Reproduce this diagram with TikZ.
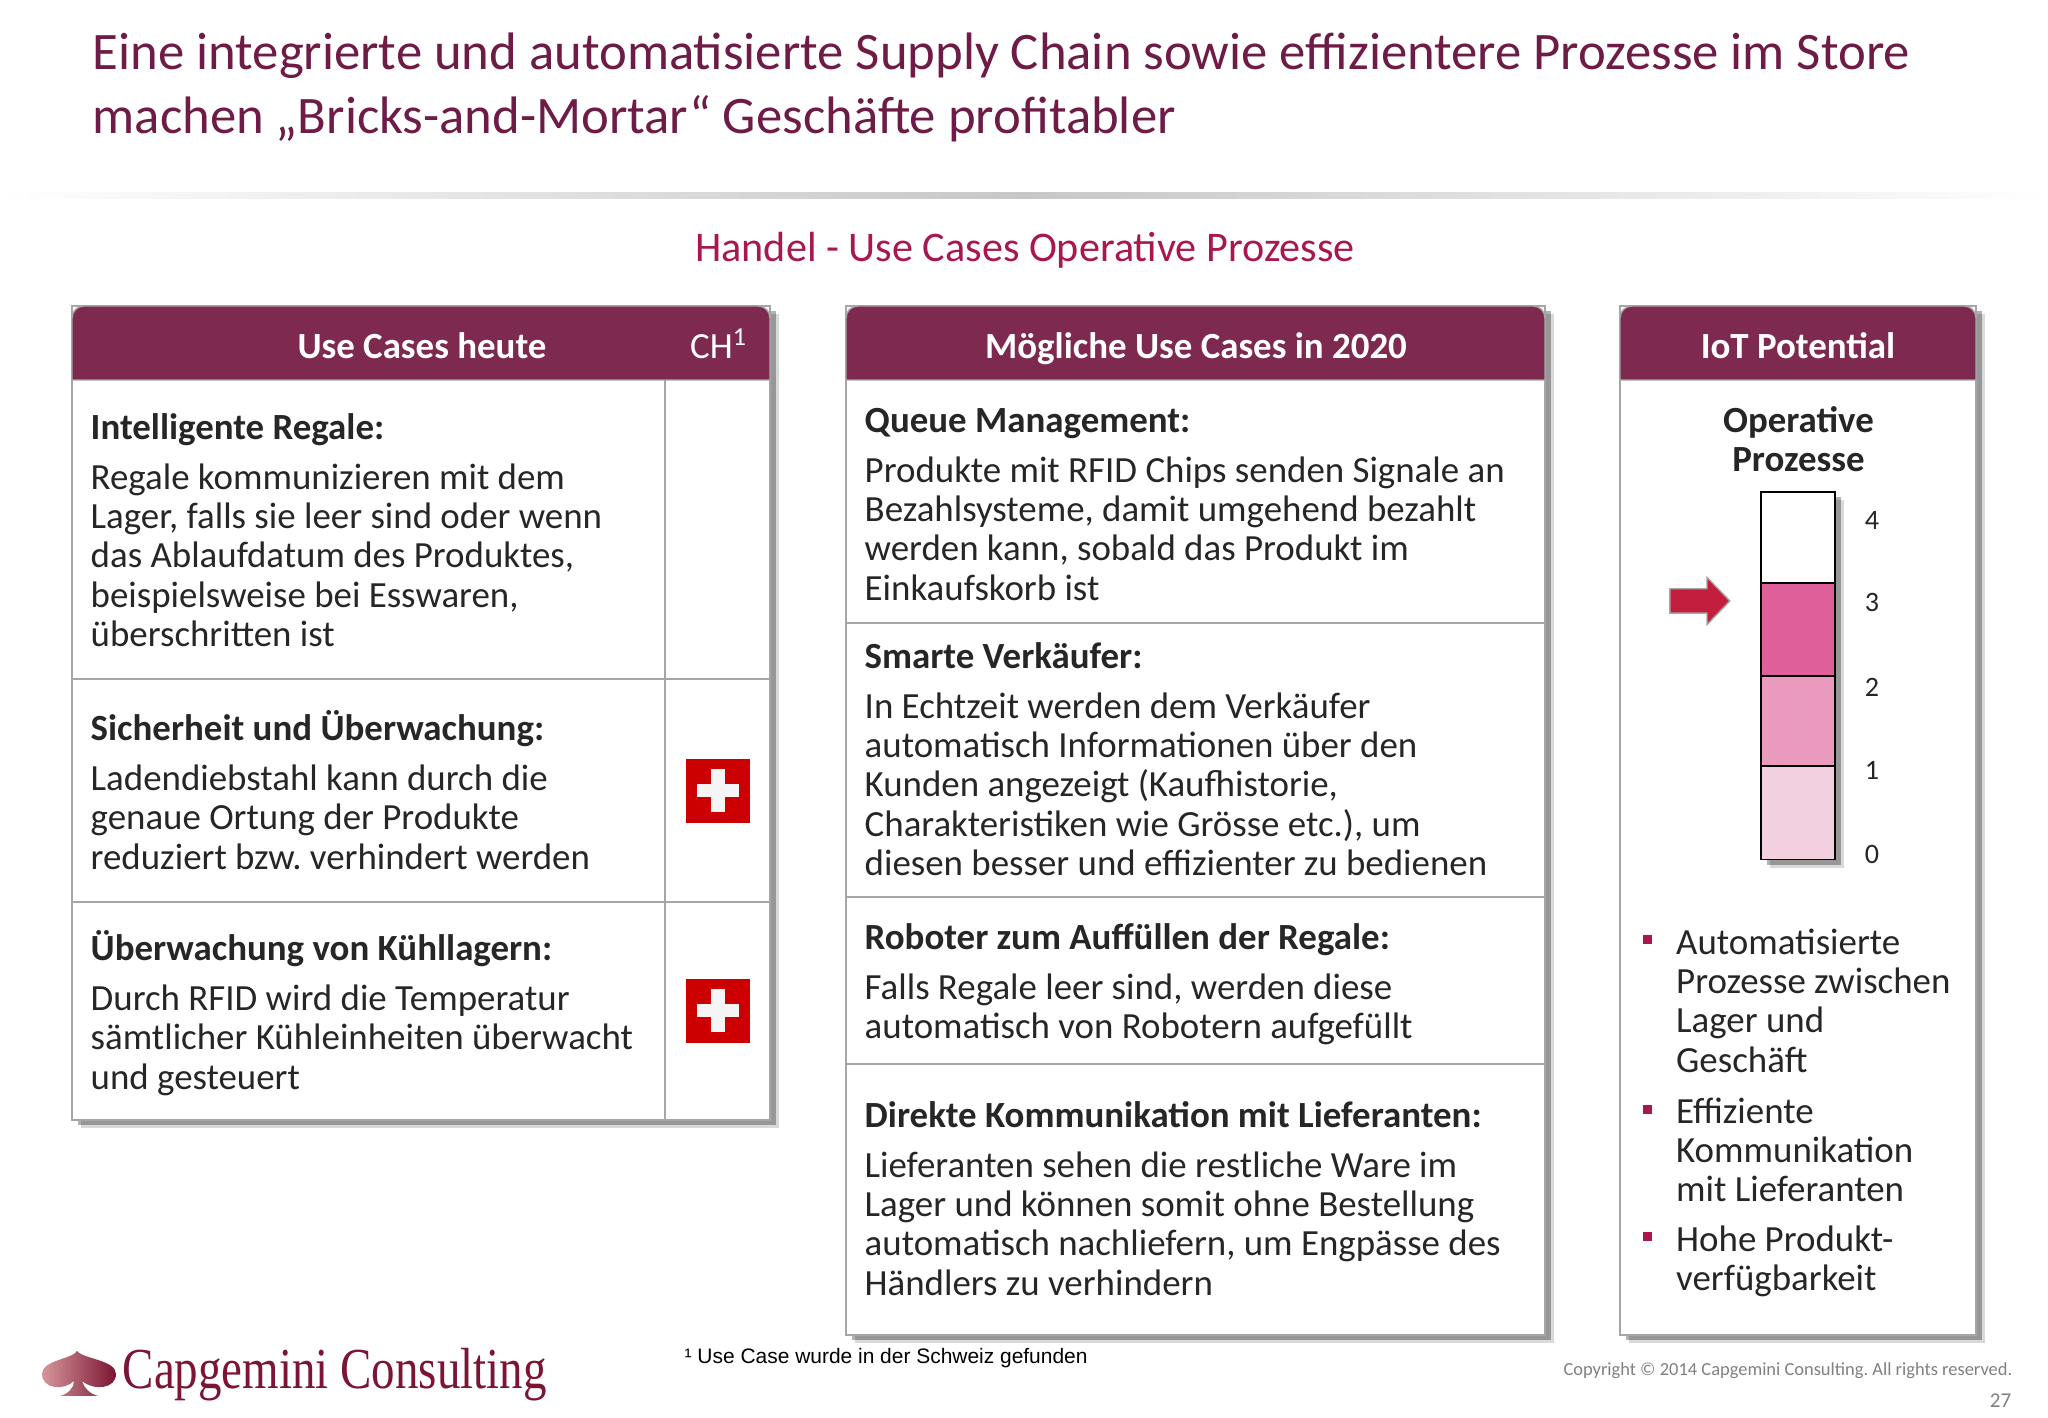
\documentclass[tikz,border=0pt]{standalone}
\usepackage{fontspec}
\setmainfont{Carlito}
\newfontfamily\footfont{Liberation Sans}
\newfontfamily\logofont[FakeStretch=0.81]{Liberation Serif}
\usetikzlibrary{shadows,shapes.arrows}

\definecolor{titlered}{HTML}{6E1B45}
\definecolor{subred}{HTML}{A8174F}
\definecolor{headred}{HTML}{7E2A50}
\definecolor{logored}{HTML}{7B1533}
\definecolor{linegray}{HTML}{A6A6A6}
\definecolor{textdark}{HTML}{262626}
\definecolor{flagred}{HTML}{CC0000}
\definecolor{arrowred}{HTML}{C41E3F}

\tikzset{
  softshadow/.style={
    general shadow={shadow xshift=0.085cm,shadow yshift=-0.085cm,fill=black,opacity=.15},
    general shadow={shadow xshift=0.055cm,shadow yshift=-0.055cm,fill=black,opacity=.3}},
  panel/.style={draw=linegray,line width=0.57pt,fill=white,inner sep=0pt,softshadow},
  headfill/.style={fill=headred,draw=linegray,line width=0.4pt},
  headtext/.style={anchor=base,text=white,font=\fontsize{10.5}{12}\selectfont\bfseries,inner sep=0pt},
  headtextplain/.style={anchor=base,text=white,font=\fontsize{10.5}{12}\selectfont,inner sep=0pt},
  rowline/.style={draw=linegray,line width=0.57pt},
  usetext/.style={anchor=north west,align=left,inner sep=0pt,text=textdark,
    font=\fontsize{10.5}{11.2}\selectfont},
  listmark/.style={fill=subred,inner sep=0pt,minimum size=0.09cm},
  barcell/.style={draw=black,line width=0.55pt,inner sep=0pt,minimum width=0.74cm},
  barnum/.style={text=textdark,inner sep=0pt,font=\fontsize{8}{10}\selectfont},
  swissflag/.pic={
    \fill[flagred] (-0.32,-0.32) rectangle (0.32,0.32);
    \fill[white!96!black] (-0.21,-0.065) rectangle (0.21,0.065);
    \fill[white!96!black] (-0.07,-0.215) rectangle (0.07,0.215);
  }
}
\newcommand{\usehead}[1]{\strut\textbf{#1}\\[3pt]}

\begin{document}
\frenchspacing
\begin{tikzpicture}
  \useasboundingbox (0,0) rectangle (20.48,14.18);

  % Titel
  \node[anchor=north west,align=left,inner sep=0pt,text=titlered,font=\fontsize{15}{18.2}\selectfont] (Titel) at (0.92,13.94)
    {\strut Eine integrierte und automatisierte Supply Chain sowie effizientere Prozesse im Store\\
     machen „Bricks-and-Mortar“ Geschäfte profitabler};
  \shade[left color=white,right color=white,middle color=black!22] (0,12.19) rectangle (20.48,12.25);
  \node[text=subred,inner sep=0pt,font=\fontsize{12}{14}\selectfont] (Untertitel) at (10.25,11.675) {Handel - Use Cases Operative Prozesse};

  % Panels
  \node[panel,minimum width=6.98cm,minimum height=8.14cm]  (PanelHeute) at (4.21,7.05) {};
  \node[panel,minimum width=6.99cm,minimum height=10.29cm] (PanelNeu)   at (11.955,5.975) {};
  \node[panel,minimum width=3.56cm,minimum height=10.29cm] (PanelIot)   at (17.98,5.975) {};

  \foreach \xa/\xb in {0.72/7.70,8.46/15.45,16.20/19.76}
    \draw[headfill] (\xa,10.38) [rounded corners=0.12cm] -- (\xa,11.12) -- (\xb,11.12) [sharp corners] -- (\xb,10.38) -- cycle;

  \node[headtext]      (HeadHeute) at (4.22,10.59)  {Use Cases heute};
  \node[headtextplain] (HeadCh)    at (7.19,10.59)  {CH\textsuperscript{1}};
  \node[headtext]      (HeadNeu)   at (11.96,10.59) {Mögliche Use Cases in 2020};
  \node[headtext]      (HeadIot)   at (17.98,10.59) {IoT Potential};

  % Zeilen
  \draw[rowline] (6.65,10.38) -- (6.65,2.98);
  \foreach \y in {7.39,5.16}
    \draw[rowline] (PanelHeute.west |- 0,\y) -- (PanelHeute.east |- 0,\y);
  \foreach \y in {7.95,5.21,3.54}
    \draw[rowline] (PanelNeu.west |- 0,\y) -- (PanelNeu.east |- 0,\y);

  % Use Cases heute
  \node[usetext] (TxtRegale) at (0.90,10.07) {\usehead{Intelligente Regale:}Regale kommunizieren mit dem\\Lager, falls sie leer sind oder wenn\\das Ablaufdatum des Produktes,\\beispielsweise bei Esswaren,\\überschritten ist};
  \node[usetext] (TxtSicher) at (0.90,7.08)  {\usehead{Sicherheit und Überwachung:}Ladendiebstahl kann durch die\\genaue Ortung der Produkte\\reduziert bzw. verhindert werden};
  \node[usetext] (TxtKuehl)  at (0.90,4.88)  {\usehead{Überwachung von Kühllagern:}Durch RFID wird die Temperatur\\sämtlicher Kühleinheiten überwacht\\und gesteuert};

  \pic at (7.18,6.27) {swissflag};
  \pic at (7.18,4.07) {swissflag};

  % Use Cases 2020
  \node[usetext] (TxtQueue)   at (8.64,10.14) {\usehead{Queue Management:}Produkte mit RFID Chips senden Signale an\\Bezahlsysteme, damit umgehend bezahlt\\werden kann, sobald das Produkt im\\Einkaufskorb ist};
  \node[usetext] (TxtSmart)   at (8.64,7.78)  {\usehead{Smarte Verkäufer:}In Echtzeit werden dem Verkäufer\\automatisch Informationen über den\\Kunden angezeigt (Kaufhistorie,\\Charakteristiken wie Grösse etc.), um\\diesen besser und effizienter zu bedienen};
  \node[usetext] (TxtRoboter) at (8.64,4.97)  {\usehead{Roboter zum Auffüllen der Regale:}Falls Regale leer sind, werden diese\\automatisch von Robotern aufgefüllt};
  \node[usetext] (TxtDirekt)  at (8.64,3.19)  {\usehead{Direkte Kommunikation mit Lieferanten:}Lieferanten sehen die restliche Ware im\\Lager und können somit ohne Bestellung\\automatisch nachliefern, um Engpässe des\\Händlers zu verhindern};

  % IoT Potential
  \node[usetext,anchor=north,align=center,font=\fontsize{10.5}{11.2}\selectfont\bfseries] (TxtOperativ) at (17.985,10.14) {\strut Operative\\Prozesse};

  \node[draw=black,inner sep=0pt,minimum width=0.74cm,minimum height=3.675cm,softshadow] (Bar) at (17.98,7.4225) {};
  \node[barcell,fill=white,minimum height=0.91cm]       (BarVier) at (17.98,8.805) {};
  \node[barcell,fill={rgb,255:red,222;green,95;blue,154},minimum height=0.93cm]   (BarDrei) at (17.98,7.885) {};
  \node[barcell,fill={rgb,255:red,234;green,154;blue,189},minimum height=0.90cm]  (BarZwei) at (17.98,6.97) {};
  \node[barcell,fill={rgb,255:red,242;green,208;blue,224},minimum height=0.935cm] (BarEins) at (17.98,6.0525) {};

  \node[barnum] (NumVier) at (18.72,8.98) {4};
  \node[barnum] (NumDrei) at (18.72,8.16) {3};
  \node[barnum] (NumZwei) at (18.72,7.31) {2};
  \node[barnum] (NumEins) at (18.72,6.48) {1};
  \node[barnum] (NumNull) at (18.72,5.64) {0};

  \node[single arrow,fill=arrowred,draw=linegray,line width=0.4pt,inner sep=0pt,text height=0.23cm,minimum height=0.60cm,
    single arrow head extend=0.115cm,single arrow tip angle=92] (Marker) at (16.94,8.17) {};

  \node[listmark] (MarkA) at (16.47,4.78) {};
  \node[listmark] (MarkB) at (16.47,3.08) {};
  \node[listmark] (MarkC) at (16.47,1.81) {};
  \node[usetext] (ItemA) at (16.755,4.92) {\strut Automatisierte\\Prozesse zwischen\\Lager und\\Geschäft};
  \node[usetext] (ItemB) at (16.755,3.23) {\strut Effiziente\\Kommunikation\\mit Lieferanten};
  \node[usetext] (ItemC) at (16.755,1.95) {\strut Hohe Produkt-\\verfügbarkeit};

  % Fuss
  \shade[left color={rgb,255:red,214;green,150;blue,155},right color=logored] (0.77,0.67) .. controls (0.73,0.59) and (0.42,0.58) .. (0.42,0.44)
    .. controls (0.42,0.29) and (0.64,0.27) .. (0.74,0.37) .. controls (0.74,0.30) and (0.68,0.24) .. (0.60,0.22)
    -- (0.98,0.22) .. controls (0.90,0.24) and (0.84,0.30) .. (0.82,0.37)
    .. controls (0.94,0.27) and (1.16,0.29) .. (1.16,0.44) .. controls (1.16,0.58) and (0.83,0.59) .. (0.77,0.67) -- cycle;
  \node[anchor=base west,inner sep=0pt,text=logored,font=\logofont\fontsize{16.5}{18}\selectfont] (Logo) at (1.22,0.29) {Capgemini Consulting};
  \node[anchor=west,inner sep=0pt,text=black,font=\footfont\fontsize{5.96}{8}\selectfont] (Fussnote) at (6.84,0.60) {¹ Use Case wurde in der Schweiz gefunden};
  \node[anchor=east,inner sep=0pt,text=black!50,font=\fontsize{5.25}{8}\selectfont] (Copyright) at (20.13,0.47) {Copyright © 2014 Capgemini Consulting. All rights reserved.};
  \node[anchor=east,inner sep=0pt,text=black!50,font=\fontsize{6}{8}\selectfont] (Seite) at (20.12,0.17) {27};
\end{tikzpicture}
\end{document}
